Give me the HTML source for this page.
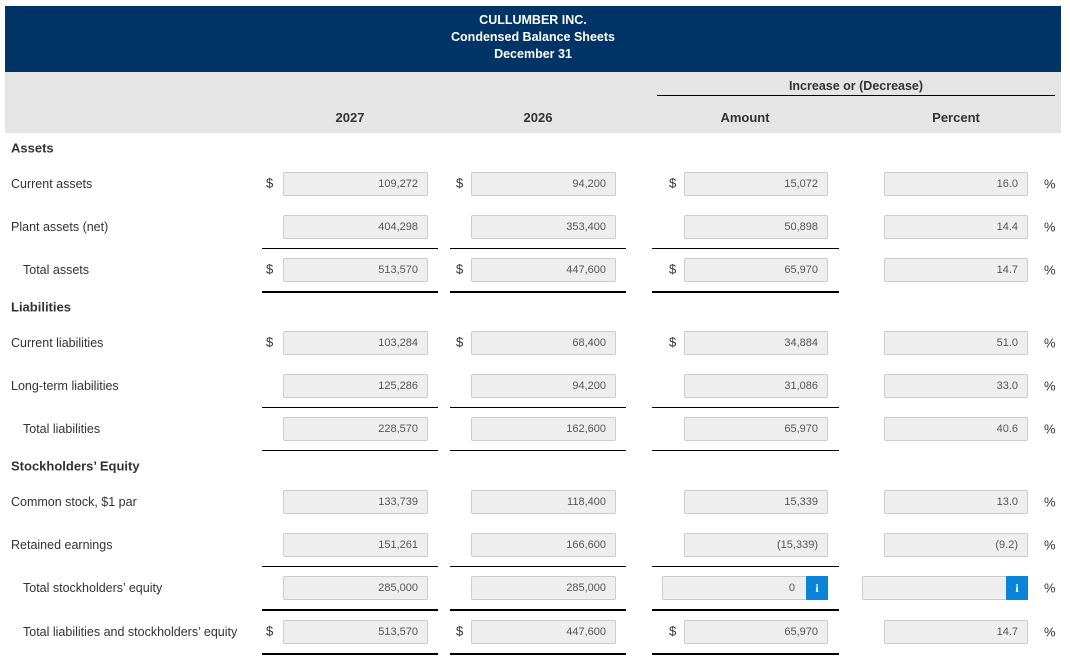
<!DOCTYPE html>
<html><head><meta charset="utf-8"><style>
body{margin:0;width:1070px;height:665px;background:#fff;position:relative;overflow:hidden;font-family:"Liberation Sans",sans-serif;color:#333}
.a{position:absolute}
.hdr{left:5px;top:6px;width:1056px;height:66px;background:#003366;color:#fff;text-align:center;font-weight:bold;font-size:12.5px;line-height:17px;padding-top:6px;box-sizing:border-box}
.band{left:5px;top:72px;width:1056px;height:61px;background:#e5e5e5}
.ch{font-weight:bold;font-size:13px;color:#333;transform:translateX(-50%);white-space:nowrap}
.lbl{font-size:12.5px;white-space:nowrap;transform:translateY(-50%)}
.sec{font-weight:bold;font-size:13px}
.box{height:24px;background:#eee;border:1px solid #ccc;box-sizing:border-box;font-size:11px;color:#555;text-align:right;line-height:22px;padding-right:9px;border-radius:2px}
.info{background:#0a84d8;color:#fff;font-weight:bold;font-family:"Liberation Serif",serif;font-size:12px;text-align:center;line-height:24px;width:22px;height:24px}
.sym{font-size:13px;transform:translateY(-50%)}
.ln{height:1px;background:#000}
</style></head><body>
<div class="a hdr">CULLUMBER INC.<br>Condensed Balance Sheets<br>December 31</div>
<div class="a band"></div>
<div class="a ch" style="left:856px;top:79px;font-size:12.5px">Increase or (Decrease)</div>
<div class="a ln" style="left:657px;top:95px;width:398px"></div>
<div class="a ch" style="left:350px;top:110px">2027</div>
<div class="a ch" style="left:538px;top:110px">2026</div>
<div class="a ch" style="left:745px;top:110px">Amount</div>
<div class="a ch" style="left:956px;top:110px">Percent</div>
<div id="rows"></div>
<script>
const labels=["Assets","Current assets","Plant assets (net)","Total assets","Liabilities","Current liabilities","Long-term liabilities","Total liabilities","Stockholders\u2019 Equity","Common stock, $1 par","Retained earnings","Total stockholders\u2019 equity","Total liabilities and stockholders\u2019 equity"];
const rowY=[148,184,227,270,307,343,386,429,466,502,545,588,632];
const v2027=[null,"109,272","404,298","513,570",null,"103,284","125,286","228,570",null,"133,739","151,261","285,000","513,570"];
const v2026=[null,"94,200","353,400","447,600",null,"68,400","94,200","162,600",null,"118,400","166,600","285,000","447,600"];
const vAmt=[null,"15,072","50,898","65,970",null,"34,884","31,086","65,970",null,"15,339","(15,339)","0","65,970"];
const vPct=[null,"16.0","14.4","14.7",null,"51.0","33.0","40.6",null,"13.0","(9.2)","","14.7"];
const kind=["sec","item","item","total","sec","item","item","total","sec","item","item","total","total"];
const dollar=[0,1,0,1,0,1,0,0,0,0,0,0,1];
const under=[0,0,0,2,0,0,0,1,0,0,0,1,2];
const host=document.getElementById('rows');
function mk(cls,style,txt){const d=document.createElement('div');d.className='a '+cls;d.style.cssText=style;if(txt!==undefined)d.textContent=txt;host.appendChild(d);return d;}
labels.forEach((t,i)=>{
 const y=rowY[i];
 if(kind[i]==='sec'){const e=mk('lbl sec','left:11px;top:'+y+'px',t);
 
 return;}
 const e=mk('lbl','left:'+(kind[i]==='total'?23:11)+'px;top:'+y+'px',t);
 
 
 const cols=[[283,145,270,v2027[i]],[471,145,460,v2026[i]],[684,144,673,vAmt[i]],[884,144,0,vPct[i]]];
 const special=(i===11);
 cols.forEach((c,j)=>{
  let x=c[0],w=c[1];
  if(special&&j===2){x=662;w=166;}
  if(special&&j===3){x=862;w=166;}
  const b=mk('box','left:'+x+'px;top:'+(y-12)+'px;width:'+w+'px;'+(special&&j>=2?'padding-right:32px':''),c[3]);
  
  
  if(special&&j>=2){const f=mk('info','left:'+(x+w-22)+'px;top:'+(y-12)+'px','i');
   
   }
  if(dollar[i]&&j<3){const s=mk('sym','left:'+(c[2]-4)+'px;top:'+(y-1)+'px','$');
   
   }
 });
 const p=mk('sym','left:1044px;top:'+y+'px','%');
 
 
 if(kind[i]==='total'){
  [[262,176],[450,176],[652,187]].forEach(l=>{
   const a=mk('ln','left:'+l[0]+'px;top:'+(y-22)+'px;width:'+l[1]+'px');
   
   
   if(under[i]){const u=mk('ln','left:'+l[0]+'px;top:'+(y+21)+'px;width:'+l[1]+'px;height:'+under[i]+'px');
    
    }
  });
 }
});
</script>
</body></html>
